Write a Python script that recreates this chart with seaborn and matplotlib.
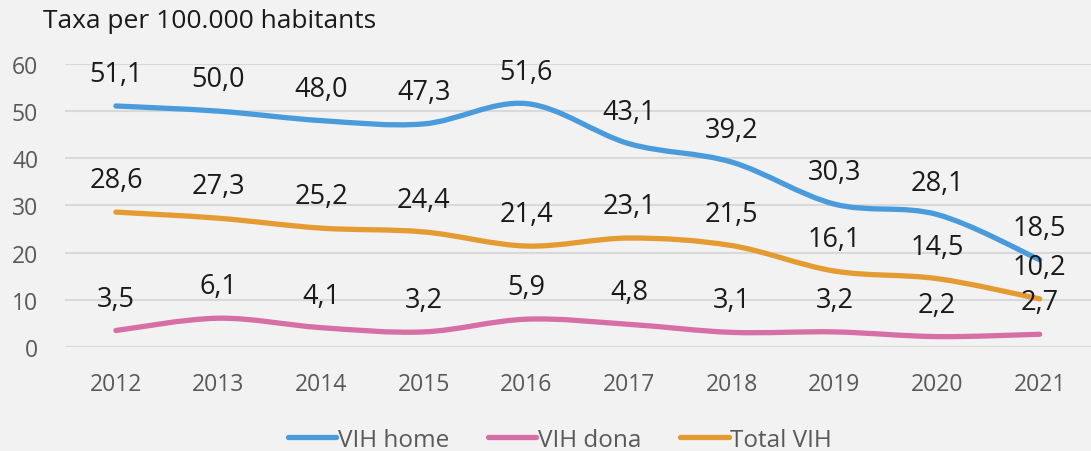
import numpy as np
import pandas as pd
import matplotlib
matplotlib.use("Agg")
import matplotlib.pyplot as plt
import seaborn as sns
from matplotlib.path import Path
from matplotlib.patches import PathPatch
from matplotlib.lines import Line2D

anys = ["2012", "2013", "2014", "2015", "2016", "2017", "2018", "2019", "2020", "2021"]
vih_home = [51.1, 50.0, 48.0, 47.3, 51.6, 43.1, 39.2, 30.3, 28.1, 18.5]
vih_dona = [3.5, 6.1, 4.1, 3.2, 5.9, 4.8, 3.1, 3.2, 2.2, 2.7]
total_vih = [28.6, 27.3, 25.2, 24.4, 21.4, 23.1, 21.5, 16.1, 14.5, 10.2]
series = ["VIH home", "VIH dona", "Total VIH"]
colors = {"VIH home": "#4A9BDC", "VIH dona": "#D66FA5", "Total VIH": "#E49C32"}

df = pd.DataFrame({"Any": anys, "VIH home": vih_home, "VIH dona": vih_dona, "Total VIH": total_vih})
df_long = df.melt(id_vars="Any", var_name="Serie", value_name="Taxa")
df_long["pos"] = df_long["Any"].map({a: i for i, a in enumerate(anys)})

sns.set_theme(style="whitegrid")
plt.rcParams["font.family"] = ["Open Sans", "DejaVu Sans"]

fig = plt.figure(figsize=(10.91, 4.52), dpi=100, facecolor="#F2F2F2")
ax = fig.add_axes([0.0592, 0.2301, 0.9408, 0.6261])
ax.set_facecolor("#F2F2F2")

# seaborn dibuja las series; luego se sustituyen por curvas suavizadas (estilo Excel)
sns.lineplot(data=df_long, x="pos", y="Taxa", hue="Serie", hue_order=series,
             palette=colors, ax=ax, legend=False, linewidth=0)


def curva_suave(xs, ys):
    pts = np.column_stack([xs, ys])
    verts = [pts[0]]
    codes = [Path.MOVETO]
    n = len(pts)
    for i in range(n - 1):
        p0 = pts[max(i - 1, 0)]
        p1 = pts[i]
        p2 = pts[i + 1]
        p3 = pts[min(i + 2, n - 1)]
        c1 = p1 + (p2 - p0) / 6.0
        c2 = p2 - (p3 - p1) / 6.0
        verts += [c1, c2, p2]
        codes += [Path.CURVE4] * 3
    return Path(verts, codes)


for s in series:
    sub = df_long[df_long["Serie"] == s]
    patch = PathPatch(curva_suave(sub["pos"].values, sub["Taxa"].values),
                      facecolor="none", edgecolor=colors[s], lw=3.8,
                      capstyle="round", joinstyle="round", zorder=3)
    ax.add_patch(patch)
    for x, y in zip(sub["pos"], sub["Taxa"]):
        ax.annotate(f"{y:.1f}".replace(".", ","), (x, y), xytext=(0, 23),
                    textcoords="offset points", ha="center", va="center",
                    fontsize=19.5, color="#1a1a1a", zorder=4, annotation_clip=False)

ax.set_xlim(-0.5, len(anys) - 0.5)
ax.set_ylim(0, 60)
ax.set_yticks(range(0, 61, 10))
ax.set_xticks(range(len(anys)))
ax.set_xticklabels(anys)
ax.set_xlabel("")
ax.set_ylabel("")
ax.grid(axis="y", color="#D9D9D9", linewidth=1.5)
ax.grid(axis="x", visible=False)
for sp in ax.spines.values():
    sp.set_visible(False)
ax.tick_params(axis="both", colors="#595959", labelsize=16.5, length=0)
ax.tick_params(axis="x", pad=18)
ax.tick_params(axis="y", pad=19)

fig.text(0.039, 0.952, "Taxa per 100.000 habitants", fontsize=19, color="#1a1a1a",
         ha="left", va="center")

handles = [Line2D([0], [0], color=colors[s], lw=3.8, solid_capstyle="round") for s in series]
fig.legend(handles, series, loc="lower center", bbox_to_anchor=(0.513, -0.05), ncol=3,
           frameon=False, fontsize=17.5, labelcolor="#595959", handlelength=2.0,
           handletextpad=0.05, columnspacing=1.6)

fig.savefig("out.png", dpi=100, facecolor=fig.get_facecolor())
